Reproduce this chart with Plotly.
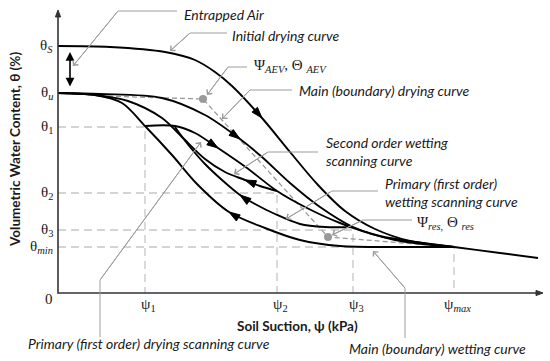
import numpy as np
import plotly.graph_objects as go

# ---------------- data (chart units: 1 unit = 1 px of the schematic) ----------------
psi_ticks = [87, 219, 295, 396]
psi_labels = ["ψ<sub>1</sub>", "ψ<sub>2</sub>", "ψ<sub>3</sub>", "ψ<sub><i>max</i></sub>"]
theta_ticks = [247, 200, 166, 100, 63, 46, 0]
theta_labels = ["θ<sub><i>S</i></sub>", "θ<sub><i>u</i></sub>", "θ<sub>1</sub>", "θ<sub>2</sub>",
                "θ<sub>3</sub>", "θ<sub><i>min</i></sub>", "0"]

# scanning reference points (psi, theta)
ref_psi = [87, 219, 295, 396]
ref_theta = [166, 100, 63, 46]

# curves (listed in the direction of travel)
init_dry_x = [0, 52, 107, 137, 157, 174, 204, 232, 260, 287, 317, 352, 396, 442, 480]
init_dry_y = [247, 246, 241, 233, 221, 207, 175, 141, 108, 82, 64, 52, 46, 40, 35]

main_dry_x = [0, 42, 104, 147, 182, 204, 232, 262, 295, 337, 396]
main_dry_y = [200, 199, 195, 178, 154, 136, 110, 86, 66, 53, 46]

prim_dry_x = [87, 117, 137, 160, 189, 219, 249, 282, 322, 396]
prim_dry_y = [167, 167, 160, 145, 125, 102, 85, 70, 57, 46]

second_wet_x = [219, 202, 187, 167, 147, 124, 104, 70, 37, 0]
second_wet_y = [102, 107, 113, 121, 134, 156, 175, 192, 198, 200]

prim_wet_x = [295, 267, 242, 217, 197, 182, 164, 147, 132, 122, 117]
prim_wet_y = [66, 66, 69, 79, 89, 98, 113, 129, 146, 159, 166]

main_wet_x = [396, 342, 282, 242, 207, 171, 140, 114, 87, 64, 37, 0]
main_wet_y = [46, 46, 47, 53, 65, 81, 108, 138, 167, 190, 198, 200]

# index of the arrow along each curve
curves = [
    (init_dry_x, init_dry_y, 6),
    (main_dry_x, main_dry_y, 4),
    (prim_dry_x, prim_dry_y, 3),
    (second_wet_x, second_wet_y, 2),
    (prim_wet_x, prim_wet_y, 5),
    (main_wet_x, main_wet_y, 5),
]

aev_pt = (145, 194)
res_pt = (270, 56)
theta_u_start = (42, 197)

# ---------------- figure ----------------
fig = go.Figure()

REF = "#c6c6c6"
for px, ty in zip(ref_psi, ref_theta):
    fig.add_trace(go.Scatter(x=[0, px, px], y=[ty, ty, 0], mode="lines",
                             line=dict(color=REF, width=1.3, dash="8px,5px"), hoverinfo="skip"))

# AEV / residual construction lines
fig.add_trace(go.Scatter(x=[theta_u_start[0], aev_pt[0], res_pt[0], ref_psi[-1]],
                         y=[theta_u_start[1], aev_pt[1], res_pt[1], ref_theta[-1]],
                         mode="lines", line=dict(color="#999999", width=1.3, dash="5px,3px"),
                         hoverinfo="skip"))
fig.add_trace(go.Scatter(x=[aev_pt[0], res_pt[0]], y=[aev_pt[1], res_pt[1]], mode="markers",
                         marker=dict(color="#9a9a9a", size=8), hoverinfo="skip"))

def arrow_tri(tx, ty, dx, dy, L=11, W=3.6):
    n = np.hypot(dx, dy)
    ux, uy = dx / n, dy / n
    bx, by = tx - L * ux, ty - L * uy
    px_, py_ = -uy, ux
    return [tx, bx + W * px_, bx - W * px_, tx], [ty, by + W * py_, by - W * py_, ty]

for cx, cy, i in curves:
    fig.add_trace(go.Scatter(x=cx, y=cy, mode="lines",
                             line=dict(color="black", width=1.9, shape="spline", smoothing=0.9),
                             hoverinfo="skip"))
    dx = cx[i + 1] - cx[i - 1]
    dy = cy[i + 1] - cy[i - 1]
    ax_, ay_ = arrow_tri(cx[i], cy[i], dx, dy)
    fig.add_trace(go.Scatter(x=ax_, y=ay_, mode="lines", fill="toself", fillcolor="black",
                             line=dict(color="black", width=1), hoverinfo="skip"))

# axes
X_END, Y_END = 485, 283
fig.add_trace(go.Scatter(x=[0, 0, X_END - 4], y=[Y_END - 4, 0, 0], mode="lines",
                         line=dict(color="#333333", width=1.6), hoverinfo="skip"))
for tx, ty, dx, dy in [(0, Y_END, 0, 1), (X_END, 0, 1, 0)]:
    ax_, ay_ = arrow_tri(tx, ty, dx, dy, L=7, W=2.6)
    fig.add_trace(go.Scatter(x=ax_, y=ay_, mode="lines", fill="toself", fillcolor="#333333",
                             line=dict(color="#333333", width=1), hoverinfo="skip"))

# entrapped air double arrow
ea_x, ea_top, ea_bot = 12, 241, 205
fig.add_annotation(x=ea_x, y=ea_top, ax=ea_x, ay=ea_bot, xref="x", yref="y", axref="x", ayref="y",
                   text="", showarrow=True, arrowhead=2, startarrowhead=2, arrowside="end+start",
                   arrowsize=1.1, arrowwidth=1.6, arrowcolor="black", standoff=0, startstandoff=0)

# leader lines
GREY = "#9c9c9c"
leaders = [
    ([(119, 282), (60, 282), (15, 227)]),
    ([(169, 260), (132, 260), (112, 242)]),
    ([(189, 226), (170, 226), (149, 198)]),
    ([(234, 203), (192, 203), (164, 174)]),
    ([(260, 141), (210, 141), (176, 119)]),
    ([(320, 102), (274, 102), (228, 74)]),
    ([(354, 73), (305, 73), (274, 58)]),
    ([(347, -45), (347, 5), (315, 42)]),
    ([(42, -44), (42, 13), (143, 151)]),
]
for pts in leaders:
    xs = [p[0] for p in pts]
    ys = [p[1] for p in pts]
    fig.add_trace(go.Scatter(x=xs, y=ys, mode="lines", line=dict(color=GREY, width=1),
                             hoverinfo="skip"))
    fig.add_annotation(x=xs[-1], y=ys[-1], ax=xs[-2], ay=ys[-2], xref="x", yref="y",
                       axref="x", ayref="y", text="", showarrow=True, arrowhead=4,
                       arrowsize=1.3, arrowwidth=1, arrowcolor=GREY, standoff=0)

LBL = dict(family="Lato, Open Sans, sans-serif", size=14, color="#1a1a1a")
SER = dict(family="Liberation Serif, DejaVu Serif, serif", size=15, color="#1a1a1a")
labels = [
    (124, 279, "<i>Entrapped Air</i>", LBL),
    (172, 258, "<i>Initial drying curve</i>", LBL),
    (194, 227, "Ψ<sub><i>AEV</i></sub>, Θ <sub><i>AEV</i></sub>", SER),
    (239, 203, "<i>Main (boundary) drying curve</i>", LBL),
    (266, 142, "<i>Second order wetting<br>scanning curve</i>", LBL),
    (325, 101, "<i>Primary (first order)<br>wetting scanning curve</i>", LBL),
    (357, 70, "Ψ<sub><i>res,</i></sub> Θ <sub><i>res</i></sub>", SER),
    (289, -55, "<i>Main (boundary) wetting curve</i>", LBL),
    (-32, -50, "<i>Primary (first order) drying scanning curve</i>", LBL),
]
for x, y, t, f in labels:
    fig.add_annotation(x=x, y=y, text=t, showarrow=False, xanchor="left", yanchor="middle",
                       font=f, align="left")

# tick labels
for t, lab in zip(theta_ticks, theta_labels):
    fig.add_annotation(x=-3, y=t if t != 0 else -6, text=lab, showarrow=False, xanchor="right",
                       yanchor="middle", font=SER)
for t, lab in zip(psi_ticks, psi_labels):
    fig.add_annotation(x=t + 3, y=-12, text=lab, showarrow=False, xanchor="center",
                       yanchor="middle", font=SER)

TIT = dict(family="Lato, Open Sans, sans-serif", size=13.5, color="#1a1a1a")
fig.add_annotation(x=239, y=-33, text="<b>Soil Suction, ψ (kPa)</b>", showarrow=False,
                   xanchor="center", yanchor="middle", font=TIT)
fig.add_annotation(x=-43, y=143, text="<b>Volumetric Water Content, θ (%)</b>", showarrow=False,
                   textangle=-90, xanchor="center", yanchor="middle", font=TIT)

fig.update_layout(width=550, height=361, margin=dict(l=0, r=0, t=0, b=0),
                  paper_bgcolor="white", plot_bgcolor="white", showlegend=False,
                  xaxis=dict(range=[-58, 492], visible=False, fixedrange=True),
                  yaxis=dict(range=[-68, 293], visible=False, fixedrange=True))

fig.write_html("out.html", config={"displayModeBar": False},
               post_script="document.body.style.margin='0';document.body.style.padding='0';")
